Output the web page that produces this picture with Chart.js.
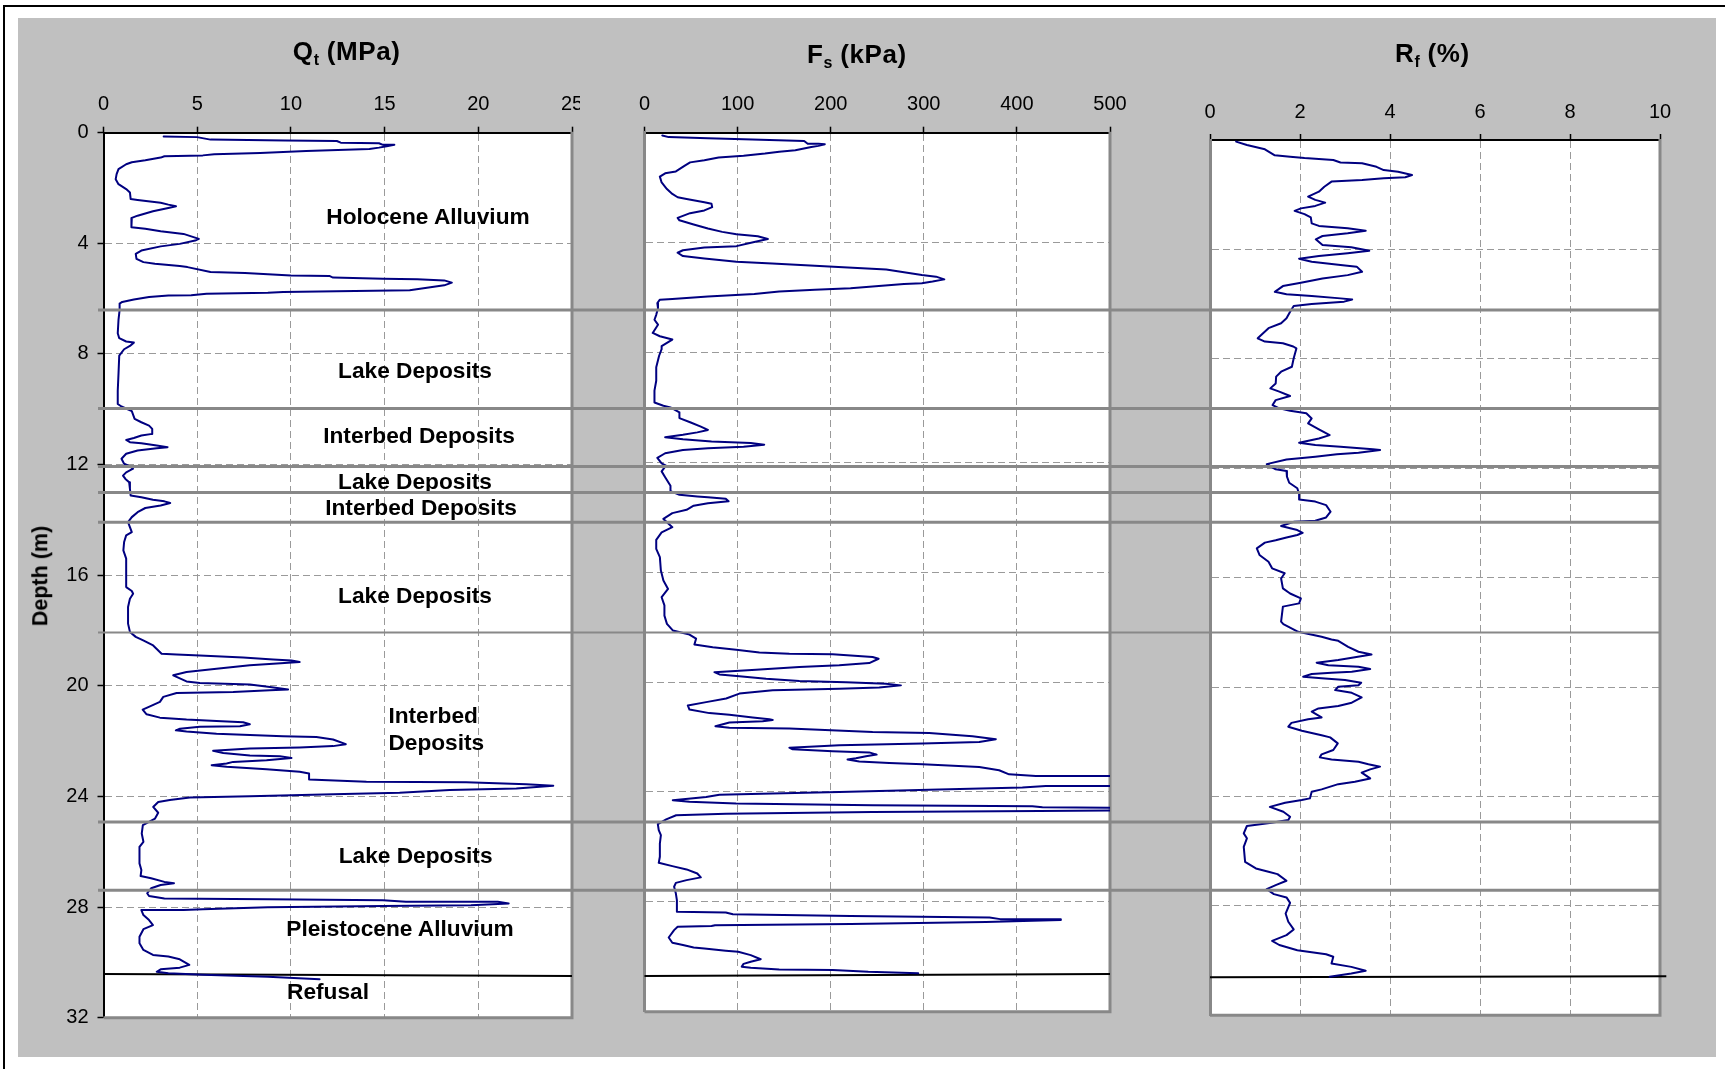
<!DOCTYPE html>
<html>
<head>
<meta charset="utf-8">
<title>CPT profile</title>
<script src="https://cdn.jsdelivr.net/npm/chart.js@4/dist/chart.umd.min.js"></script>
<style>
html, body { margin: 0; padding: 0; background: #fff; overflow: hidden; }
#fig { position: relative; width: 1725px; height: 1069px; overflow: hidden; background: #fff;
       font-family: "Liberation Sans", Arial, sans-serif; }
#frame { position: absolute; left: 3px; top: 5px; width: 3000px; height: 3000px;
         border-top: 2px solid #000; border-left: 2px solid #000; }
#backdrop { position: absolute; left: 18px; top: 18px; width: 1698px; height: 1039px; background: #c0c0c0; }
canvas { position: absolute; top: 0; }
#ov { z-index: 5; pointer-events: none; }
.t { position: absolute; white-space: nowrap; font-weight: bold; color: #000; line-height: 1; z-index: 3; }
.title { font-size: 26px; letter-spacing: 0.6px; }
.title sub { font-size: 16px; vertical-align: -5px; letter-spacing: 0; }
.lbl { font-size: 22.7px; }
.c { transform: translateX(-50%); }
#depthTitle { font-size: 21.5px; transform: translate(-50%, -50%) rotate(-90deg); }
</style>
</head>
<body>
<div id="fig">
  <div id="frame"></div>
  <div id="backdrop"></div>

  <canvas id="cQt" width="580" height="1069" style="left:0px"></canvas>
  <canvas id="cFs" width="580" height="1069" style="left:580px"></canvas>
  <canvas id="cRf" width="565" height="1069" style="left:1160px"></canvas>

  <div class="t title" style="left:292.8px; top:38px">Q<sub>t</sub> (MPa)</div>
  <div class="t title" style="left:807px; top:41.3px">F<sub>s</sub> (kPa)</div>
  <div class="t title" style="left:1395px; top:39.7px">R<sub>f</sub> (%)</div>
  <div class="t" id="depthTitle" style="left:41px; top:575.5px">Depth (m)</div>

  <div class="t lbl c" style="left:428px; top:204.8px">Holocene Alluvium</div>
  <div class="t lbl c" style="left:415px; top:358.5px">Lake Deposits</div>
  <div class="t lbl c" style="left:419px; top:424.1px">Interbed Deposits</div>
  <div class="t lbl c" style="left:415px; top:470.1px">Lake Deposits</div>
  <div class="t lbl c" style="left:421px; top:495.8px">Interbed Deposits</div>
  <div class="t lbl c" style="left:415px; top:584.1px">Lake Deposits</div>
  <div class="t lbl" style="left:388.4px; top:704.1px">Interbed</div>
  <div class="t lbl" style="left:388.4px; top:731.3px">Deposits</div>
  <div class="t lbl c" style="left:415.6px; top:844.1px">Lake Deposits</div>
  <div class="t lbl c" style="left:400px; top:916.5px">Pleistocene Alluvium</div>
  <div class="t lbl" style="left:287px; top:980.1px">Refusal</div>

  <canvas id="ov" width="1725" height="1069" style="left:0px"></canvas>
</div>

<script>
// ---- Axis ticks ----
const depthTicks = [0, 4, 8, 12, 16, 20, 24, 28, 32];
const qtTicks = [0, 5, 10, 15, 20, 25];
const fsTicks = [0, 100, 200, 300, 400, 500];
const rfTicks = [0, 2, 4, 6, 8, 10];

// ---- Cone tip resistance Qt (MPa) vs depth (m) ----
const qtDepth = [
  0.14,0.16,0.25,0.28,0.30,0.36,0.38,0.44,0.44,0.49,
  0.54,0.59,0.66,0.73,0.78,0.82,0.85,0.90,1.00,1.07,
  1.14,1.32,1.50,1.68,1.86,2.04,2.16,2.40,2.43,2.53,
  2.60,2.66,2.72,2.84,3.00,3.08,3.24,3.42,3.47,3.56,
  3.66,3.75,3.84,3.90,4.02,4.11,4.26,4.38,4.56,4.68,
  4.74,4.82,4.86,5.04,5.07,5.16,5.18,5.24,5.28,5.30,
  5.34,5.42,5.52,5.70,5.73,5.76,5.79,5.82,5.88,5.89,
  5.94,6.03,6.12,6.18,6.41,6.77,7.25,7.43,7.55,7.59,
  7.71,7.83,8.06,8.72,9.33,9.81,9.90,10.07,10.35,10.47,
  10.59,10.71,10.89,10.95,11.04,11.11,11.19,11.23,11.31,11.37,
  11.41,11.49,11.61,11.79,11.97,12.07,12.15,12.28,12.40,12.52,
  12.64,12.88,13.12,13.18,13.27,13.33,13.39,13.48,13.57,13.72,
  13.90,14.08,14.26,14.44,14.56,14.80,15.10,15.40,15.95,16.43,
  16.57,16.67,16.85,17.15,17.75,18.05,18.23,18.36,18.54,18.84,
  18.87,18.90,18.98,19.05,19.08,19.14,19.20,19.26,19.38,19.50,
  19.62,19.84,19.90,19.95,20.04,20.13,20.16,20.22,20.26,20.40,
  20.58,20.74,20.86,21.03,21.15,21.22,21.27,21.32,21.39,21.46,
  21.48,21.55,21.61,21.65,21.73,21.82,21.85,21.94,22.11,22.18,
  22.23,22.27,22.35,22.43,22.52,22.55,22.61,22.69,22.75,22.81,
  22.87,22.93,23.02,23.11,23.17,23.39,23.47,23.49,23.56,23.61,
  23.71,23.77,23.87,23.92,23.99,24.04,24.13,24.20,24.38,24.59,
  24.80,25.04,25.34,25.64,25.82,26.42,26.66,26.88,26.96,27.09,
  27.14,27.20,27.32,27.50,27.60,27.69,27.72,27.75,27.81,27.81,
  27.87,27.93,27.96,28.01,28.08,28.11,28.11,28.29,28.47,28.65,
  28.80,29.07,29.31,29.55,29.73,29.79,29.89,30.09,30.19,30.25,
  30.34,30.39,30.45,30.52,30.61
];
const qtMPa = [
  3.21,4.99,5.71,9.69,12.45,12.66,14.70,14.91,15.52,15.11,
  14.70,14.19,10.82,8.36,5.91,5.30,3.25,3.05,2.23,1.51,
  1.21,0.80,0.70,0.65,0.80,1.21,1.41,1.45,1.82,3.05,
  3.46,3.87,3.46,2.64,1.82,1.51,1.47,1.51,2.23,3.05,
  4.27,4.68,5.09,4.89,4.07,3.05,2.02,1.72,1.76,2.13,
  2.74,4.07,4.48,5.71,7.55,10.00,12.05,12.25,14.91,16.75,
  18.18,18.59,18.18,16.34,12.45,9.59,8.77,5.50,4.68,3.46,
  2.43,1.62,1.00,0.86,0.86,0.80,0.76,0.84,1.21,1.62,
  1.41,1.10,0.84,0.80,0.76,0.76,0.96,1.51,1.66,2.02,
  2.43,2.60,2.60,2.02,1.62,1.21,1.41,2.02,2.84,3.42,
  2.84,1.82,1.21,0.96,1.10,1.41,1.58,1.21,1.04,1.17,
  1.37,1.41,1.45,2.02,2.64,3.25,3.56,3.05,2.23,1.82,
  1.51,1.31,1.41,1.51,1.21,1.10,1.06,1.21,1.21,1.21,
  1.51,1.58,1.41,1.31,1.31,1.41,1.72,2.12,2.65,3.10,
  3.90,5.14,7.45,9.05,10.03,10.47,9.05,7.81,6.03,4.43,
  3.72,4.43,5.14,7.81,8.88,9.85,8.88,6.92,3.90,3.19,
  3.01,2.48,2.09,2.30,3.01,4.43,6.03,7.45,7.81,7.28,
  5.14,4.08,3.86,4.43,6.03,9.58,11.36,12.25,12.93,12.25,
  10.47,7.81,5.85,6.39,7.81,9.41,10.03,8.70,6.92,6.57,
  5.77,6.57,8.70,10.47,10.97,10.97,14.03,19.36,22.56,24.00,
  22.03,18.47,15.80,12.25,7.81,4.61,3.54,2.92,2.65,2.92,
  2.75,2.10,2.04,2.13,1.92,1.92,2.02,1.98,2.54,3.25,
  3.76,3.05,2.54,2.33,2.43,3.25,8.77,14.91,16.14,21.04,
  21.62,19.61,14.91,8.77,5.30,4.27,2.02,2.13,2.43,2.64,
  2.13,1.92,1.92,2.13,2.64,3.46,4.07,4.58,4.07,3.05,
  2.84,3.46,5.30,8.77,11.53
];

// ---- Sleeve friction Fs (kPa) vs depth (m); readings past 500 run off scale ----
const fsDepth = [
  0.10,0.16,0.20,0.24,0.30,0.40,0.40,0.42,0.48,0.52,
  0.64,0.69,0.76,0.84,0.90,1.00,1.08,1.20,1.41,1.48,
  1.60,1.81,2.05,2.23,2.35,2.41,2.53,2.59,2.71,2.83,
  2.93,3.10,3.19,3.34,3.49,3.61,3.70,3.77,3.87,3.98,
  4.13,4.18,4.28,4.37,4.49,4.58,4.70,4.76,4.84,4.88,
  4.98,5.18,5.24,5.34,5.42,5.48,5.51,5.66,5.72,5.78,
  5.87,5.96,6.05,6.08,6.20,6.39,6.63,6.81,6.99,7.29,
  7.41,7.53,7.65,7.77,7.88,8.12,8.54,9.03,9.39,9.82,
  9.94,10.00,10.18,10.39,10.54,10.70,10.82,10.91,11.00,11.09,
  11.16,11.24,11.30,11.36,11.43,11.49,11.55,11.67,11.84,12.04,
  12.12,12.33,12.54,12.85,13.05,13.18,13.24,13.27,13.33,13.42,
  13.49,13.58,13.73,13.85,14.06,14.18,14.36,14.55,14.82,15.15,
  15.45,15.94,16.30,16.61,16.91,17.21,17.58,17.88,18.12,18.27,
  18.42,18.63,18.73,18.82,18.92,18.97,18.99,19.09,19.15,19.31,
  19.39,19.45,19.55,19.64,19.72,19.79,19.88,19.96,20.01,20.06,
  20.12,20.20,20.24,20.30,20.42,20.60,20.73,20.85,21.00,21.13,
  21.19,21.29,21.35,21.38,21.43,21.47,21.61,21.66,21.69,21.82,
  21.85,21.97,22.08,22.18,22.24,22.30,22.39,22.45,22.52,22.56,
  22.64,22.70,22.77,22.82,22.89,22.95,22.99,23.09,23.21,23.36,
  23.42,23.42,23.78,23.78,23.84,23.91,24.00,24.06,24.10,24.18,
  24.30,24.36,24.42,24.48,24.52,24.56,24.58,24.66,24.69,24.73,
  24.79,24.85,25.00,25.17,25.39,25.57,25.88,26.36,26.58,26.70,
  26.82,26.97,27.11,27.21,27.31,27.45,27.70,27.94,28.36,28.39,
  28.45,28.52,28.57,28.63,28.63,28.66,28.73,28.81,28.85,28.88,
  28.91,29.03,29.30,29.49,29.57,29.66,29.70,29.78,29.82,29.94,
  30.09,30.18,30.26,30.36,30.40,30.46,30.48,30.55,30.60
];
const fsKPa = [
  19.1,26.0,68.1,106.4,171.5,175.3,186.8,193.7,186.8,179.2,
  162.0,144.7,129.4,106.4,79.6,64.3,49.0,43.3,33.7,22.2,
  16.5,18.4,24.1,29.9,35.6,45.2,64.3,72.0,72.7,64.3,
  49.0,35.6,37.5,52.8,68.1,83.5,98.8,121.7,132.5,117.9,
  98.8,64.3,41.3,35.6,41.3,64.3,98.8,137.1,183.0,203.1,
  259.6,297.9,313.2,322.0,309.4,297.9,278.7,221.3,183.0,144.7,
  117.9,68.1,29.9,16.5,13.8,14.5,12.6,10.7,14.5,8.8,
  16.5,29.9,24.1,18.4,18.4,15.7,12.6,12.6,10.7,10.7,
  20.3,27.9,37.5,37.5,49.0,60.5,68.1,56.7,41.3,22.2,
  41.3,72.0,114.1,128.6,106.4,68.1,41.3,22.2,13.8,18.4,
  23.0,18.4,22.2,27.9,27.9,37.5,56.7,68.1,87.3,90.3,
  68.1,52.8,45.2,29.9,20.3,24.1,29.9,18.4,12.6,12.6,
  16.5,17.6,20.3,25.3,18.4,21.4,21.4,24.1,30.4,48.3,
  55.4,53.6,73.3,98.4,123.4,155.6,202.0,245.0,251.4,241.4,
  209.2,166.3,119.8,75.1,80.5,101.9,130.6,166.3,216.4,259.3,
  275.4,252.1,209.2,137.7,101.9,87.7,66.2,46.5,48.3,69.7,
  91.2,116.2,134.1,137.7,126.9,91.2,76.2,91.2,155.6,245.0,
  305.8,352.3,377.4,359.5,298.6,209.2,155.6,159.1,202.0,241.4,
  249.3,237.9,227.1,218.1,230.7,262.9,298.6,359.5,380.9,391.6,
  420.3,560,560,431.0,405.9,316.5,209.2,137.7,80.5,66.2,
  30.4,48.3,98.4,245.0,416.6,427.4,560,560,423.8,245.0,
  87.7,34.0,23.3,14.3,15.3,17.6,16.5,16.5,15.3,29.9,
  45.2,56.7,60.5,45.2,33.7,31.8,33.7,34.8,34.8,87.3,
  94.9,221.3,370.6,382.1,447.2,447.2,366.8,221.3,75.8,72.0,
  35.6,31.8,26.0,29.9,41.3,52.8,64.3,87.3,100.7,114.1,
  124.8,114.1,106.4,104.5,114.1,144.7,202.1,240.4,294.0
];

// ---- Friction ratio Rf (%) vs depth (m) ----
const rfDepth = [
  0.06,0.18,0.34,0.56,0.61,0.66,0.73,0.82,0.85,0.98,
  1.10,1.16,1.28,1.36,1.40,1.46,1.52,1.71,1.89,2.07,
  2.19,2.29,2.41,2.50,2.59,2.71,2.83,3.05,3.14,3.23,
  3.32,3.41,3.51,3.63,3.84,3.92,4.05,4.14,4.24,4.34,
  4.45,4.57,4.63,4.82,4.94,5.06,5.22,5.34,5.55,5.64,
  5.70,5.79,5.83,5.91,6.00,6.07,6.28,6.52,6.70,6.88,
  7.25,7.37,7.43,7.55,7.62,7.98,8.29,8.47,8.65,8.90,
  9.08,9.20,9.36,9.51,9.69,9.81,9.90,9.99,10.18,10.36,
  10.58,10.79,10.91,11.07,11.15,11.21,11.31,11.33,11.43,11.49,
  11.58,11.68,11.85,12.04,12.10,12.31,12.53,12.73,12.94,13.14,
  13.22,13.35,13.59,13.80,13.92,13.96,14.11,14.26,14.36,14.44,
  14.53,14.63,14.72,14.93,15.17,15.42,15.66,15.84,16.03,16.39,
  16.58,16.76,16.94,17.06,17.61,17.70,17.98,18.16,18.26,18.31,
  18.53,18.71,18.81,18.91,19.01,19.11,19.20,19.26,19.34,19.44,
  19.48,19.52,19.62,19.68,19.74,19.84,19.93,19.99,20.11,20.21,
  20.38,20.57,20.69,20.78,20.90,21.11,21.18,21.31,21.45,21.60,
  21.76,21.84,22.06,22.30,22.46,22.57,22.65,22.73,22.82,22.91,
  23.01,23.13,23.34,23.46,23.55,23.74,23.83,24.07,24.13,24.23,
  24.38,24.56,24.74,24.86,24.96,25.08,25.35,25.53,25.84,26.39,
  26.63,26.75,26.84,27.08,27.24,27.39,27.57,27.69,27.89,28.28,
  28.58,28.86,29.07,29.28,29.43,29.62,29.77,29.86,30.11,30.23,
  30.37,30.47,30.59
];
const rfPct = [
  0.58,0.82,1.22,1.44,1.78,2.10,2.74,2.90,3.38,3.70,
  3.86,4.18,4.49,4.34,3.86,3.38,2.70,2.54,2.42,2.18,
  2.34,2.56,2.34,2.02,1.88,2.10,2.24,2.26,2.42,3.06,
  3.46,3.06,2.50,2.35,2.50,3.14,3.54,3.06,2.42,1.98,
  2.26,2.90,3.26,3.38,3.06,2.50,2.02,1.62,1.44,1.70,
  2.26,2.90,3.16,2.98,2.26,1.86,1.78,1.70,1.58,1.30,
  1.06,1.22,1.62,1.85,1.92,1.86,1.82,1.58,1.47,1.46,
  1.34,1.54,1.78,1.46,1.39,1.54,1.78,2.14,2.26,2.18,
  2.42,2.66,2.42,1.98,2.34,2.90,3.62,3.78,3.30,2.82,
  2.34,1.70,1.26,1.46,1.70,1.71,1.76,1.94,1.98,1.98,
  2.34,2.58,2.68,2.58,2.34,1.86,1.58,1.94,2.06,1.94,
  1.70,1.46,1.22,1.04,1.10,1.30,1.38,1.66,1.58,1.62,
  1.78,2.02,1.98,1.62,1.58,1.63,1.96,2.48,2.70,2.85,
  3.07,3.30,3.59,3.22,2.85,2.37,2.63,3.30,3.56,3.15,
  2.70,2.26,2.07,2.48,3.00,3.36,3.30,2.85,2.78,3.15,
  3.37,3.15,2.85,2.41,2.26,2.48,2.18,1.81,1.74,2.04,
  2.48,2.67,2.84,2.74,2.48,2.44,2.70,3.30,3.52,3.78,
  3.56,3.37,3.56,3.22,2.85,2.48,2.26,2.22,2.04,1.67,
  1.33,1.63,1.78,1.74,1.37,0.82,0.75,0.82,0.75,0.78,
  1.02,1.30,1.50,1.70,1.46,1.26,1.42,1.70,1.78,1.68,
  1.74,1.86,1.70,1.38,1.54,1.94,2.58,2.74,2.70,3.14,
  3.46,3.14,2.66
];

// ---- Refusal level: depth at the left and right ends of each panel line ----
const qtRefusalX = [0, 25],    qtRefusalDepth = [30.42, 30.49];
const fsRefusalX = [0, 500],   fsRefusalDepth = [30.70, 30.63];
const rfRefusalX = [0, 10.14], rfRefusalDepth = [30.61, 30.57];

// ---- Stratigraphic boundaries drawn across all three panels (depth, m) ----
const layerBoundaryDepths = [6.44, 10.00, 12.09, 13.03, 14.11, 18.09, 24.93, 27.40];
const boundaryLineWidths  = [3, 3, 3, 3, 3, 2, 3, 3];

// ------------------------------------------------------------------
const FONT = "'Liberation Sans', Arial, Helvetica, sans-serif";
Chart.defaults.font.family = FONT;
Chart.defaults.color = '#000';

const toPoints = (xs, ys) => xs.map((x, i) => ({ x: x, y: ys[i] }));
const GRID = '#9a9a9a';
const FRAME = '#888888';
const CURVE = '#000080';

// white plot area underneath, grey frame on the right and bottom sides
const panelFrame = {
  id: 'panelFrame',
  beforeDraw(chart) {
    const { ctx, chartArea: a } = chart;
    ctx.save();
    ctx.fillStyle = '#ffffff';
    ctx.fillRect(a.left, a.top, a.right - a.left, a.bottom - a.top);
    ctx.restore();
  },
  beforeDatasetsDraw(chart) {
    const { ctx, chartArea: a } = chart;
    ctx.save();
    ctx.strokeStyle = FRAME;
    ctx.lineWidth = 3;
    ctx.beginPath();
    ctx.moveTo(a.right, a.top - 1);
    ctx.lineTo(a.right, a.bottom);
    ctx.lineTo(a.left, a.bottom);
    ctx.stroke();
    ctx.restore();
  }
};

function innerGrid(min, max) {
  return c => (c.tick && (c.tick.value === min || c.tick.value === max)) ? 'rgba(0,0,0,0)' : GRID;
}

function profileChart(id, p) {
  const xMin = p.xTicks[0], xMax = p.xTicks[p.xTicks.length - 1];
  return new Chart(document.getElementById(id), {
    type: 'scatter',
    data: {
      datasets: [
        { data: p.curve, showLine: true, borderColor: CURVE, borderWidth: 2,
          pointRadius: 0, tension: 0, borderJoinStyle: 'round', borderCapStyle: 'round' },
        { data: p.refusal, showLine: true, borderColor: '#000', borderWidth: 2,
          pointRadius: 0, tension: 0, clip: false }
      ]
    },
    options: {
      responsive: false,
      animation: false,
      devicePixelRatio: 1,
      events: [],
      layout: { autoPadding: false, padding: p.padding },
      plugins: { legend: { display: false }, tooltip: { enabled: false } },
      scales: {
        x: {
          type: 'linear', position: 'top', min: xMin, max: xMax,
          afterBuildTicks: s => { s.ticks = p.xTicks.map(v => ({ value: v })); },
          afterFit: s => { s.height = 40; s.paddingLeft = 0; s.paddingRight = 0; },
          grid: { color: innerGrid(xMin, xMax), lineWidth: 1,
                  tickColor: '#000', tickWidth: 1.5, tickLength: 6, drawTicks: true },
          border: { display: true, color: '#000', width: 2, dash: [7, 4] },
          ticks: { font: { size: 20 }, color: '#000', padding: 10, maxRotation: 0, autoSkip: false }
        },
        y: {
          type: 'linear', position: 'left', reverse: true, min: 0, max: 32,
          afterBuildTicks: s => { s.ticks = depthTicks.map(v => ({ value: v })); },
          afterFit: s => { s.width = p.yWidth; s.paddingTop = 0; s.paddingBottom = 0; },
          grid: { color: innerGrid(0, 32), lineWidth: 1, tickColor: '#000', tickWidth: 1.5,
                  tickLength: 6, drawTicks: p.depthLabels },
          border: { display: true, color: p.depthLabels ? '#000' : FRAME, width: p.depthLabels ? 2 : 3, dash: [7, 4] },
          ticks: { display: p.depthLabels, font: { size: 20 }, color: '#000', padding: 9, autoSkip: false }
        }
      }
    },
    plugins: [panelFrame]
  });
}

profileChart('cQt', {
  curve: toPoints(qtMPa, qtDepth),
  refusal: toPoints(qtRefusalX, qtRefusalDepth),
  xTicks: qtTicks, depthLabels: true, yWidth: 60,
  padding: { left: 43.5, right: 8, top: 92.7, bottom: 51.3 }
});

profileChart('cFs', {
  curve: toPoints(fsKPa, fsDepth),
  refusal: toPoints(fsRefusalX, fsRefusalDepth),
  xTicks: fsTicks, depthLabels: false, yWidth: 10,
  padding: { left: 54.5, right: 50, top: 92.7, bottom: 57.3 }
});

profileChart('cRf', {
  curve: toPoints(rfPct, rfDepth),
  refusal: toPoints(rfRefusalX, rfRefusalDepth),
  xTicks: rfTicks, depthLabels: false, yWidth: 10,
  padding: { left: 40, right: 65, top: 100, bottom: 53.7 }
});

// layer boundaries: one depth scale shared with the Qt panel, spanning every panel
new Chart(document.getElementById('ov'), {
  type: 'scatter',
  data: {
    datasets: layerBoundaryDepths.map((d, i) => ({
      data: [{ x: 0, y: d }, { x: 1, y: d }],
      showLine: true, borderColor: FRAME, borderWidth: boundaryLineWidths[i],
      pointRadius: 0, clip: false
    }))
  },
  options: {
    responsive: false,
    animation: false,
    devicePixelRatio: 1,
    events: [],
    layout: { autoPadding: false, padding: { left: 98, right: 64, top: 131.7, bottom: 51.3 } },
    plugins: { legend: { display: false }, tooltip: { enabled: false } },
    scales: {
      x: { type: 'linear', display: false, min: 0, max: 1 },
      y: { type: 'linear', display: false, reverse: true, min: 0, max: 32 }
    }
  }
});
</script>
</body>
</html>
